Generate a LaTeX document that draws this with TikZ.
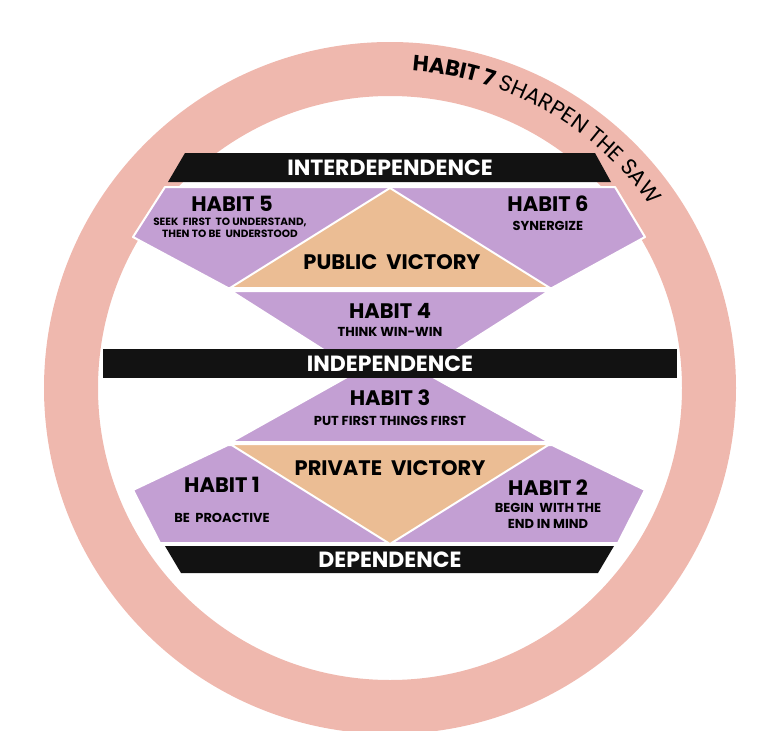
\documentclass[tikz,border=0pt]{standalone}
\usepackage{fontspec}
\setmainfont{Poppins}
\usetikzlibrary{decorations.text}
\definecolor{ring}{HTML}{EFB8AE}
\definecolor{purp}{HTML}{C39FD3}
\definecolor{oran}{HTML}{EBBD94}
\definecolor{blk}{HTML}{121212}
\tikzset{
  pshape/.style={fill=purp,draw=white,line width=2pt,line join=round},
  oshape/.style={fill=oran,draw=white,line width=2pt,line join=round},
  bar/.style={fill=blk,draw=none},
  bartxt/.style={text=white,font=\fontsize{22}{22}\selectfont\bfseries},
  big/.style={font=\fontsize{21}{21}\selectfont\bfseries},
  small/.style={font=\fontsize{13}{16}\selectfont\bfseries,align=center},
  tiny/.style={font=\fontsize{10.5}{12}\selectfont\bfseries,align=center}
}
\begin{document}
\begin{tikzpicture}[x=1pt,y=-1pt]
\useasboundingbox (0,0) rectangle (777,731);
\coordinate (c) at (390,388);
\draw[ring,line width=54pt] (c) circle[radius=319];
% upper hexagon (habits 5/6)
\path[pshape] (165,187) -- (615,187) -- (645,237) -- (552,288) -- (228,288) -- (133,237) -- cycle;
\path[oshape] (390,188) -- (550,288) -- (230,288) -- cycle;
% habit 4 and 3
\path[pshape] (231,291) -- (549,291) -- (390,392) -- cycle;
\path[pshape] (390,353) -- (549,442) -- (231,442) -- cycle;
% lower hexagon (habits 1/2)
\path[pshape] (228,445) -- (552,445) -- (645,490) -- (618,543) -- (160,543) -- (133,490) -- cycle;
\path[oshape] (230,444) -- (550,444) -- (390,544) -- cycle;
% bars
\path[bar] (185,153) -- (595,153) -- (611,182) -- (168,182) -- cycle;
\path[bar] (103,349) rectangle (677,378);
\path[bar] (165,546) -- (614,546) -- (598,573) -- (181,573) -- cycle;
% texts
\node[bartxt] (t1) at (390,168) {INTERDEPENDENCE};
\node[bartxt] (t2) at (390,364) {INDEPENDENCE};
\node[bartxt] (t3) at (390,560) {DEPENDENCE};
\node[big] (h5) at (232,204) {HABIT 5};
\node[tiny] (h5t) at (230,228) {SEEK\ \ FIRST\ \ TO UNDERSTAND,\\THEN TO BE\ \ UNDERSTOOD};
\node[big] (h6) at (548,204) {HABIT 6};
\node[small] (h6t) at (548,226) {SYNERGIZE};
\node[big] (pv) at (392,262) {PUBLIC\ \ VICTORY};
\node[big] (h4) at (390,311) {HABIT 4};
\node[small] (h4t) at (390,332) {THINK WIN-WIN};
\node[big] (h3) at (390,398) {HABIT 3};
\node[small] (h3t) at (390,421) {PUT FIRST THINGS FIRST};
\node[big] (prv) at (390,468) {PRIVATE\ \ VICTORY};
\node[big] (h1) at (222,485) {HABIT 1};
\node[small] (h1t) at (222,518) {BE\ \ PROACTIVE};
\node[big] (h2) at (548,488) {HABIT 2};
\node[small] (h2t) at (548,516) {BEGIN\ \ WITH THE\\END IN MIND};
% habit 7 along ring
\path[decorate,decoration={text along path,text align=left,
  text={|\fontsize{22}{22}\selectfont\bfseries|HABIT 7 |\fontsize{22}{22}\selectfont\mdseries|SHARPEN THE SAW}}]
  (c) ++(274:318) arc[start angle=274,end angle=345,radius=318];
\end{tikzpicture}
\end{document}
